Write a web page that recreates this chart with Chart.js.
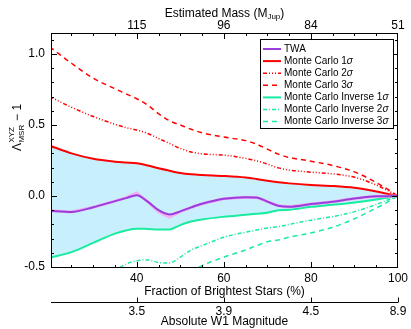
<!DOCTYPE html>
<html>
<head>
<meta charset="utf-8">
<script src="https://cdn.jsdelivr.net/npm/chart.js@4.4.0/dist/chart.umd.min.js"></script>
<style>
  html, body { margin: 0; padding: 0; background: #fff; }
  #wrap { width: 411px; height: 329px; position: relative; }
</style>
</head>
<body>
<div id="wrap"><canvas id="chart"></canvas></div>
<script>
// fraction of brightest stars (%) – shared x positions
const fraction = [20, 25, 30, 35, 37.5, 40, 42.5, 45, 47.5, 50, 52.5, 55, 60, 65, 67.5, 70, 72.5, 75, 80, 85, 90, 95, 97.5, 100];

const twa    = [-0.103, -0.112, -0.079, -0.036, -0.015, 0.005, -0.04, -0.1, -0.13, -0.108, -0.08, -0.055, -0.02, -0.008, -0.01, -0.04, -0.068, -0.075, -0.057, -0.04, -0.018, -0.002, -0.001, 0];
const twaRaw = [-0.103, -0.112, -0.079, -0.036, -0.012, 0.022, -0.04, -0.11, -0.148, -0.11, -0.08, -0.055, -0.02, -0.008, -0.01, -0.04, -0.068, -0.075, -0.057, -0.04, -0.018, -0.002, -0.001, 0];
const mc1  = [0.355, 0.30, 0.262, 0.242, 0.236, 0.23, 0.215, 0.195, 0.178, 0.162, 0.153, 0.148, 0.141, 0.13, 0.12, 0.108, 0.097, 0.089, 0.078, 0.071, 0.058, 0.032, 0.016, 0];
const mc2  = [0.70, 0.625, 0.56, 0.505, 0.482, 0.465, 0.44, 0.405, 0.37, 0.335, 0.31, 0.297, 0.288, 0.265, 0.248, 0.225, 0.198, 0.183, 0.168, 0.156, 0.132, 0.078, 0.04, 0];
const mc3  = [1.05, 0.935, 0.83, 0.755, 0.72, 0.685, 0.64, 0.58, 0.53, 0.50, 0.47, 0.445, 0.415, 0.39, 0.365, 0.33, 0.295, 0.272, 0.245, 0.215, 0.17, 0.095, 0.05, 0];
const inv1 = [-0.435, -0.395, -0.33, -0.265, -0.243, -0.23, -0.232, -0.235, -0.235, -0.205, -0.18, -0.165, -0.146, -0.132, -0.125, -0.118, -0.1, -0.097, -0.076, -0.062, -0.045, -0.024, -0.012, 0];
const inv2 = [-0.9, -0.78, -0.66, -0.53, -0.48, -0.456, -0.45, -0.468, -0.472, -0.43, -0.38, -0.35, -0.29, -0.255, -0.24, -0.225, -0.215, -0.2, -0.17, -0.145, -0.11, -0.06, -0.03, 0];
const inv3 = [-1.2, -1.05, -0.95, -0.85, -0.8, -0.75, -0.7, -0.65, -0.6, -0.56, -0.53, -0.49, -0.43, -0.38, -0.35, -0.322, -0.31, -0.29, -0.26, -0.22, -0.16, -0.085, -0.045, 0];

// tick labels
const fracTicks = [40, 60, 80, 100];
const massLabels = ['115', '96', '84', '51'];
const magLabels = ['3.5', '3.9', '4.5', '8.9'];
const yTicks = [-0.5, 0.0, 0.5, 1.0];

const FONT = '"Liberation Sans", Arial, Helvetica, sans-serif';
const RED = '#ff0000';
const GREEN = '#19eba0';
const PURPLE = '#9a3ddc';

function pts(vals) {
  return fraction.map((f, i) => ({ x: f, y: vals[i] }));
}

function line(label, vals, color, width, dash, extra) {
  return Object.assign({
    label: label,
    data: pts(vals),
    borderColor: color,
    borderWidth: width,
    borderDash: dash,
    pointRadius: 0,
    fill: false,
    cubicInterpolationMode: 'monotone'
  }, extra || {});
}

const datasets = [
  line('TWA', twa, PURPLE, 2, []),
  line('', twaRaw, '#f2b0f2', 3, [], { cubicInterpolationMode: 'default', tension: 0 }),
  line('Monte Carlo 1σ', mc1, RED, 2, [], { fill: '+3', backgroundColor: '#c8f0fc' }),
  line('Monte Carlo 2σ', mc2, RED, 1.5, [4, 2, 1, 2, 1, 2, 1, 2]),
  line('Monte Carlo 3σ', mc3, RED, 1.5, [5, 4]),
  line('Monte Carlo Inverse 1σ', inv1, GREEN, 2, []),
  line('Monte Carlo Inverse 2σ', inv2, GREEN, 1.5, [4, 2, 1, 2]),
  line('Monte Carlo Inverse 3σ', inv3, GREEN, 1.5, [5, 4])
];

const tickFont = { family: FONT, size: 12 };

function setFracTicks(s) { s.ticks = fracTicks.map(v => ({ value: v })); }

const decor = {
  id: 'decor',
  afterDraw(chart) {
    const { ctx, chartArea: a, scales } = chart;
    const x = scales.x, y = scales.y;
    ctx.save();
    ctx.strokeStyle = '#000';
    ctx.fillStyle = '#000';
    ctx.lineWidth = 1;
    ctx.setLineDash([]);
    ctx.strokeRect(a.left + 0.5, a.top + 0.5, a.right - a.left - 1, a.bottom - a.top - 1);

    ctx.beginPath();
    for (let v = 25; v < 100; v += 5) {
      const px = Math.round(x.getPixelForValue(v)) + 0.5;
      const len = fracTicks.includes(v) ? 6 : 3;
      ctx.moveTo(px, a.bottom); ctx.lineTo(px, a.bottom - len);
      ctx.moveTo(px, a.top); ctx.lineTo(px, a.top + len);
    }
    for (let i = -5; i <= 11; i++) {
      const py = Math.round(y.getPixelForValue(i / 10)) + 0.5;
      const len = i % 5 === 0 ? 6 : 3;
      ctx.moveTo(a.left, py); ctx.lineTo(a.left + len, py);
      ctx.moveTo(a.right, py); ctx.lineTo(a.right - len, py);
    }
    // magnitude axis below
    const ay = a.bottom + 34.5;
    ctx.moveTo(a.left, ay); ctx.lineTo(a.right, ay);
    fracTicks.forEach(v => {
      const px = Math.round(x.getPixelForValue(v)) + 0.5;
      ctx.moveTo(px, ay); ctx.lineTo(px, ay - 5);
    });
    ctx.stroke();

    ctx.font = '12px ' + FONT;
    ctx.textAlign = 'center';
    ctx.textBaseline = 'alphabetic';
    fracTicks.forEach((v, i) => {
      ctx.fillText(magLabels[i], x.getPixelForValue(v), a.bottom + 47);
    });
    const cx = (a.left + a.right) / 2;
    ctx.fillText('Fraction of Brightest Stars (%)', cx, a.bottom + 27);
    ctx.fillText('Absolute W1 Magnitude', cx, a.bottom + 57);

    // top title with subscript
    ctx.textAlign = 'left';
    const p1 = 'Estimated Mass (M', sub = 'Jup', p2 = ')';
    ctx.font = '12px ' + FONT;
    const w1 = ctx.measureText(p1).width, w3 = ctx.measureText(p2).width;
    ctx.font = '8px ' + FONT;
    const w2 = ctx.measureText(sub).width;
    let tx = cx - (w1 + w2 + w3) / 2;
    ctx.font = '12px ' + FONT;
    ctx.fillText(p1, tx, 17);
    ctx.font = '8px ' + FONT;
    ctx.fillText(sub, tx + w1, 19);
    ctx.font = '12px ' + FONT;
    ctx.fillText(p2, tx + w1 + w2, 17);

    // y title, rotated
    ctx.save();
    ctx.translate(21, 128);
    ctx.rotate(-Math.PI / 2);
    ctx.font = '12px ' + FONT;
    const lw = ctx.measureText('Λ').width;
    ctx.font = '8px ' + FONT;
    const sw = Math.max(ctx.measureText('XYZ').width, ctx.measureText('MSR').width);
    ctx.font = '12px ' + FONT;
    const tw = ctx.measureText(' − 1').width;
    let sx = -(lw + sw + tw) / 2;
    ctx.fillText('Λ', sx, 0);
    ctx.font = '8px ' + FONT;
    ctx.fillText('XYZ', sx + lw + 0.5, -7);
    ctx.fillText('MSR', sx + lw + 0.5, 3);
    ctx.font = '12px ' + FONT;
    ctx.fillText(' − 1', sx + lw + sw + 1, 0);
    ctx.restore();

    // legend
    const bx = 260.5, by = 39.5, bw = 133, bh = 89;
    ctx.fillStyle = '#fff';
    ctx.fillRect(bx, by, bw, bh);
    ctx.strokeStyle = '#000';
    ctx.strokeRect(bx, by, bw, bh);
    const rows = [0, 2, 3, 4, 5, 6, 7];
    ctx.textBaseline = 'middle';
    rows.forEach((di, r) => {
      const ds = chart.data.datasets[di];
      const ly = 49 + r * 12.1;
      ctx.beginPath();
      ctx.strokeStyle = ds.borderColor;
      ctx.lineWidth = ds.borderWidth;
      ctx.setLineDash(ds.borderDash || []);
      ctx.moveTo(263, ly); ctx.lineTo(281, ly);
      ctx.stroke();
      ctx.fillStyle = '#000';
      let label = ds.label;
      ctx.font = '10px ' + FONT;
      if (label.endsWith('σ')) {
        const base = label.slice(0, -1);
        ctx.fillText(base, 284, ly);
        const bwid = ctx.measureText(base).width;
        ctx.font = 'italic 10px ' + FONT;
        ctx.fillText('σ', 284 + bwid, ly);
      } else {
        ctx.fillText(label, 284, ly);
      }
    });
    ctx.restore();
  }
};

new Chart(document.getElementById('chart'), {
  type: 'line',
  data: { datasets: datasets },
  options: {
    responsive: true,
    maintainAspectRatio: false,
    animation: false,
    layout: { padding: { left: 0, right: 12, top: 0, bottom: 0 } },
    plugins: {
      legend: { display: false },
      tooltip: { enabled: false },
      filler: { drawTime: 'beforeDatasetsDraw' }
    },
    scales: {
      x: {
        type: 'linear', position: 'bottom', min: 20.3, max: 100,
        afterBuildTicks: setFracTicks,
        ticks: { font: tickFont, color: '#000', padding: 3, maxRotation: 0, autoSkip: false },
        grid: { display: false, drawTicks: false },
        border: { display: false },
        afterFit: s => { s.height = 61; }
      },
      xTop: {
        type: 'linear', position: 'top', min: 20.3, max: 100,
        afterBuildTicks: setFracTicks,
        ticks: {
          font: tickFont, color: '#000', padding: 0, maxRotation: 0, autoSkip: false,
          callback: v => massLabels[fracTicks.indexOf(v)]
        },
        grid: { display: false, drawTicks: false },
        border: { display: false },
        afterFit: s => { s.height = 33; }
      },
      y: {
        type: 'linear', min: -0.507, max: 1.148,
        afterBuildTicks: s => { s.ticks = yTicks.map(v => ({ value: v })); },
        ticks: { font: tickFont, color: '#000', padding: 6, callback: v => v.toFixed(1) },
        grid: { display: false, drawTicks: false },
        border: { display: false },
        afterFit: s => { s.height; s.width = 51; }
      }
    }
  },
  plugins: [decor]
});
</script>
</body>
</html>
